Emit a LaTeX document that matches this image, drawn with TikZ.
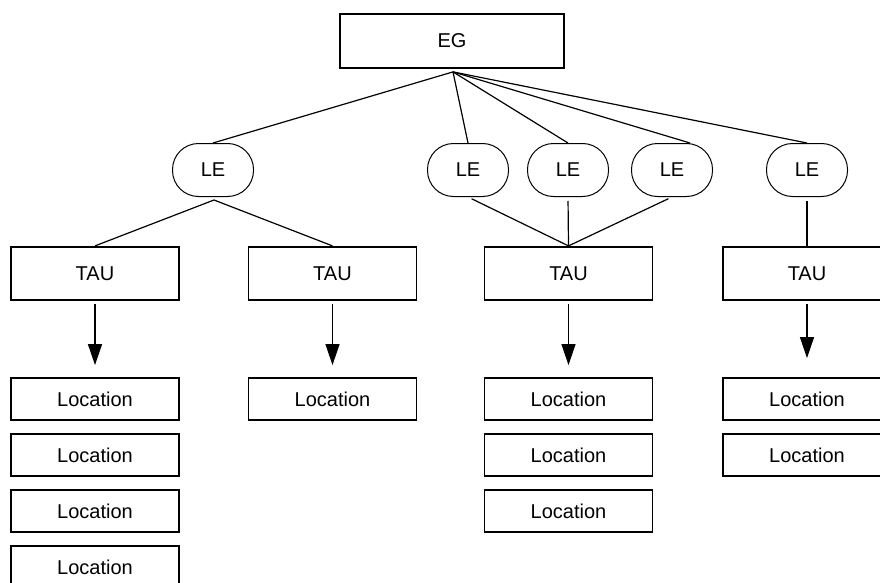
\documentclass[tikz,border=0pt]{standalone}
\usepackage{fontspec}
\setmainfont{Liberation Sans}
\usetikzlibrary{arrows.meta,calc}

\tikzset{
  box/.style={draw, line width=1.8pt, inner sep=0pt,
    minimum width=168pt, minimum height=42pt,
    font=\fontsize{20}{24}\selectfont},
  taubox/.style={box, minimum height=53pt},
  egbox/.style={box, minimum width=224pt, minimum height=54pt},
  entity/.style={draw, line width=1pt, rounded corners=26pt, inner sep=0pt,
    minimum width=81pt, minimum height=53pt,
    font=\fontsize{20}{24}\selectfont},
  link/.style={line width=1.2pt},
  flow/.style={link, -{Triangle[length=21pt,width=14pt]}}
}

\begin{document}
\begin{tikzpicture}[x=1pt, y=-1pt]
  \useasboundingbox (0,0) rectangle (880,583);
  \clip (0,0) rectangle (880,583);

  % root
  \node[egbox] (eg) at (452,41) {EG};
  \coordinate (hub) at ($(eg.south)+(1,3)$);

  % LE level
  \node[entity] (le1) at (213,170) {LE};
  \node[entity] (le2) at (468,170) {LE};
  \node[entity] (le3) at (568,170) {LE};
  \node[entity] (le4) at (672,170) {LE};
  \node[entity] (le5) at (807,170) {LE};

  % TAU level
  \node[taubox] (tau1) at (95,273.3) {TAU};
  \node[taubox] (tau2) at (332.5,273.3) {TAU};
  \node[taubox] (tau3) at (568.5,273.3) {TAU};
  \node[taubox] (tau4) at (807,273.3) {TAU};

  % locations
  \foreach \r/\y in {1/399,2/455,3/511,4/567}
    \node[box] (loca\r) at (95,\y) {Location};
  \node[box] (locb1) at (332.5,399) {Location};
  \foreach \r/\y in {1/399,2/455,3/511}
    \node[box] (locc\r) at (568.5,\y) {Location};
  \foreach \r/\y in {1/399,2/455}
    \node[box] (locd\r) at (807,\y) {Location};

  % EG to LE
  \draw[link] (hub) -- (le1.north);
  \draw[link] (hub) -- (le2.north);
  \draw[link] (hub) -- (le3.north);
  \draw[link] (hub) -- ($(le4.north)+(18,0)$);
  \draw[link] (hub) -- (le5.north);

  % LE to TAU
  \coordinate (le1b) at ($(le1.south)+(1,3)$);
  \draw[link] (le1b) -- (tau1.north);
  \draw[link] (le1b) -- (tau2.north);
  \draw[link, shorten <=4pt] (le2.south) -- (tau3.north);
  \draw[link, shorten <=4pt] (le3.south) -- (tau3.north);
  \draw[link, shorten <=4pt] (le4.south) -- (tau3.north);
  \draw[link, shorten <=4pt] (le5.south) -- (tau4.north);

  % TAU to locations
  \draw[flow, shorten <=3pt, shorten >=12pt] (tau1.south) -- (loca1.north);
  \draw[flow, shorten <=3pt, shorten >=12pt] (tau2.south) -- (locb1.north);
  \draw[flow, shorten <=3pt, shorten >=12pt] (tau3.south) -- (locc1.north);
  \draw[flow, shorten <=3pt, shorten >=19pt] (tau4.south) -- (locd1.north);
\end{tikzpicture}
\end{document}
